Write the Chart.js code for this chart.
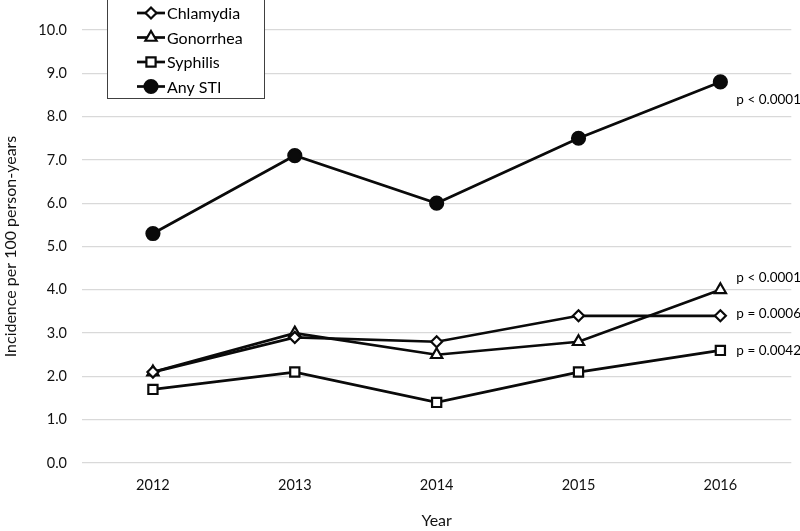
<!DOCTYPE html>
<html>
<head>
<meta charset="utf-8">
<script src="https://cdn.jsdelivr.net/npm/chart.js@4.4.1/dist/chart.umd.min.js"></script>
<style>
  html, body { margin: 0; padding: 0; background: #fff; }
  #wrap { width: 800px; height: 531px; position: relative; }
</style>
</head>
<body>
<div id="wrap"><canvas id="chart" width="800" height="531"></canvas></div>
<script>
// data
const years = ['2012', '2013', '2014', '2015', '2016'];
const seriesNames = ['Chlamydia', 'Gonorrhea', 'Syphilis', 'Any STI'];
const chlamydia = [2.1, 2.9, 2.8, 3.4, 3.4];
const gonorrhea = [2.1, 3.0, 2.5, 2.8, 4.0];
const syphilis = [1.7, 2.1, 1.4, 2.1, 2.6];
const anySTI = [5.3, 7.1, 6.0, 7.5, 8.8];
const pValues = ['p = 0.0006', 'p < 0.0001', 'p = 0.0042', 'p < 0.0001'];
const yTicks = [0, 1, 2, 3, 4, 5, 6, 7, 8, 9, 10];

const FONT = 'Lato, "Open Sans", sans-serif';
const INK = '#0a0a0a';

const markers = [
    { style: 'rectRot', radius: 5.5, fill: '#fff' },
    { style: 'triangle', radius: 6.5, fill: '#fff' },
    { style: 'rect', radius: 6.5, fill: '#fff' },
    { style: 'circle', radius: 6.5, fill: INK }
];
// where each p label sits relative to the series' last point
const pOffsets = [[16, -2], [16, -12], [16, 0], [16, 18]];

function makeSet(i, values) {
    return {
        label: seriesNames[i],
        data: values,
        borderColor: INK,
        borderWidth: 2.7,
        backgroundColor: markers[i].fill,
        pointStyle: markers[i].style,
        pointRadius: markers[i].radius,
        pointBorderWidth: 2.2,
        pointBorderColor: INK,
        pointBackgroundColor: markers[i].fill,
        tension: 0,
        fill: false
    };
}

// legend box drawn in the top-left corner, over the grid
const boxLegend = {
    id: 'boxLegend',
    afterDraw(chart) {
        const ctx = chart.ctx;
        const x0 = 107.5, y0 = -1, w = 157, h = 99.5;
        ctx.save();
        ctx.fillStyle = '#fff';
        ctx.fillRect(x0, y0, w, h);
        ctx.strokeStyle = '#404040';
        ctx.lineWidth = 1;
        ctx.strokeRect(x0, y0, w, h);
        const rows = [13, 37.5, 62, 86.5];
        chart.data.datasets.forEach((ds, i) => {
            const y = rows[i];
            ctx.strokeStyle = INK;
            ctx.lineWidth = 2.7;
            ctx.beginPath();
            ctx.moveTo(137, y);
            ctx.lineTo(165, y);
            ctx.stroke();
            ctx.fillStyle = ds.pointBackgroundColor;
            ctx.strokeStyle = INK;
            ctx.lineWidth = 2.2;
            Chart.helpers.drawPoint(ctx, { pointStyle: ds.pointStyle, radius: ds.pointRadius, rotation: 0, borderWidth: 2.2 }, 151, y);
            ctx.fillStyle = '#000';
            ctx.font = '16px ' + FONT;
            ctx.textBaseline = 'middle';
            ctx.textAlign = 'left';
            ctx.fillText(ds.label, 167, y + 1);
        });
        ctx.restore();
    }
};

// p-value notes next to the 2016 points
const pNotes = {
    id: 'pNotes',
    afterDatasetsDraw(chart) {
        const ctx = chart.ctx;
        ctx.save();
        ctx.font = '13.5px ' + FONT;
        ctx.fillStyle = '#000';
        ctx.textBaseline = 'middle';
        ctx.textAlign = 'left';
        chart.data.datasets.forEach((ds, i) => {
            const meta = chart.getDatasetMeta(i);
            const pt = meta.data[meta.data.length - 1];
            ctx.fillText(pValues[i], pt.x + pOffsets[i][0], pt.y + pOffsets[i][1]);
        });
        ctx.restore();
    }
};

new Chart(document.getElementById('chart'), {
    type: 'line',
    data: {
        labels: years,
        datasets: [
            makeSet(0, chlamydia),
            makeSet(1, gonorrhea),
            makeSet(2, syphilis),
            makeSet(3, anySTI)
        ]
    },
    options: {
        responsive: false,
        animation: false,
        devicePixelRatio: 1,
        layout: { padding: { top: 30, right: 8, left: 0, bottom: 0 } },
        plugins: {
            legend: { display: false },
            tooltip: { enabled: false }
        },
        scales: {
            x: {
                offset: true,
                grid: { display: false, drawTicks: false },
                border: { display: false },
                ticks: { color: '#111', font: { family: FONT, size: 14.5 }, padding: 14, maxRotation: 0 },
                title: { display: true, text: 'Year', color: '#111', font: { family: FONT, size: 16 }, padding: { top: 0, bottom: 1 } },
                afterFit(scale) { scale.height = 68; }
            },
            y: {
                min: 0,
                max: 10,
                afterBuildTicks(scale) { scale.ticks = yTicks.map(v => ({ value: v })); },
                grid: { color: '#d9d9d9', lineWidth: 1.3, drawTicks: false },
                border: { display: false },
                ticks: {
                    color: '#111',
                    font: { family: FONT, size: 14.5 },
                    padding: 15,
                    callback: v => Number(v).toFixed(1)
                },
                title: { display: true, text: 'Incidence per 100 person-years', color: '#111', font: { family: FONT, size: 16 }, padding: { top: 1, bottom: 0 } },
                afterFit(scale) { scale.width = 82; }
            }
        }
    },
    plugins: [pNotes, boxLegend]
});
</script>
</body>
</html>
